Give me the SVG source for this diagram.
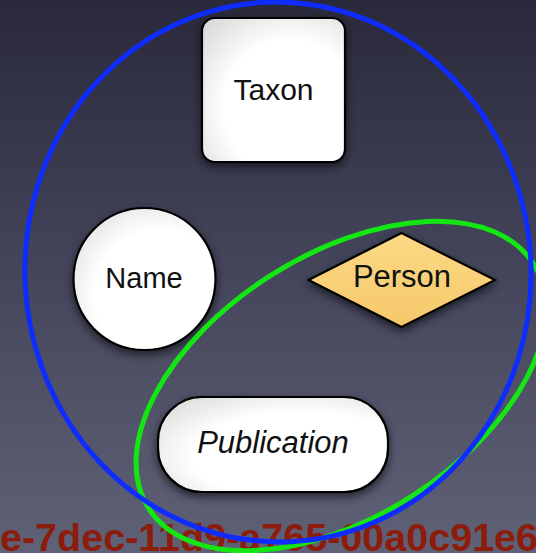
<svg xmlns="http://www.w3.org/2000/svg" width="536" height="553" viewBox="0 0 536 553">
  <defs>
    <linearGradient id="bg" x1="0" y1="0" x2="0" y2="1">
      <stop offset="0" stop-color="#2a293b"/>
      <stop offset="0.5" stop-color="#45465c"/>
      <stop offset="1" stop-color="#5f6177"/>
    </linearGradient>
    <radialGradient id="whiteFill" cx="0.62" cy="0.62" r="0.85">
      <stop offset="0.55" stop-color="#ffffff"/>
      <stop offset="1" stop-color="#d6d6d6"/>
    </radialGradient>
    <linearGradient id="personFill" x1="0" y1="0" x2="0" y2="1">
      <stop offset="0" stop-color="#fcd985"/>
      <stop offset="1" stop-color="#f6c86a"/>
    </linearGradient>
    <filter id="shadow" x="-20%" y="-20%" width="140%" height="150%">
      <feDropShadow dx="0" dy="4" stdDeviation="5" flood-color="#000000" flood-opacity="0.6"/>
    </filter>
    <style>
      .node { stroke: #000000; stroke-width: 2.2; filter: url(#shadow); }
      .white { fill: url(#whiteFill); }
      .label { font-family: "Liberation Sans", Arial, Helvetica, sans-serif; fill: #111111; text-anchor: middle; }
      .set { fill: none; stroke-width: 5; }
    </style>
  </defs>

  <rect x="0" y="0" width="536" height="553" fill="url(#bg)"/>

  <text x="0" y="551" font-family="'Liberation Sans', Arial, Helvetica, sans-serif" font-weight="bold" font-size="39.5" fill="#8c1c0c">e-7dec-11d9-a765-00a0c91e6</text>

  <g id="taxon">
    <rect class="node white" x="202" y="18" width="143" height="144" rx="13" ry="13"/>
    <text class="label" x="273.5" y="100" font-size="30">Taxon</text>
  </g>

  <g id="name">
    <circle class="node white" cx="144.5" cy="279" r="71"/>
    <text class="label" x="144" y="287.5" font-size="29">Name</text>
  </g>

  <g id="person">
    <polygon class="node" fill="url(#personFill)" points="308.5,280 401.5,233 495,280 401.5,327"/>
    <text class="label" x="402" y="287" font-size="31">Person</text>
  </g>

  <g id="publication">
    <rect class="node white" x="158" y="397" width="230" height="95" rx="44" ry="44"/>
    <text class="label" x="273" y="453" font-size="31" font-style="italic">Publication</text>
  </g>

  <g id="connectors">
    <ellipse id="set-green" class="set" stroke="#14e614" cx="341" cy="386" rx="228" ry="131" transform="rotate(-32.4 341 386)"/>
    <ellipse id="set-blue" class="set" stroke="#0f2cff" cx="278" cy="272" rx="253" ry="270" transform="rotate(-3 278 272)"/>
  </g>
</svg>
